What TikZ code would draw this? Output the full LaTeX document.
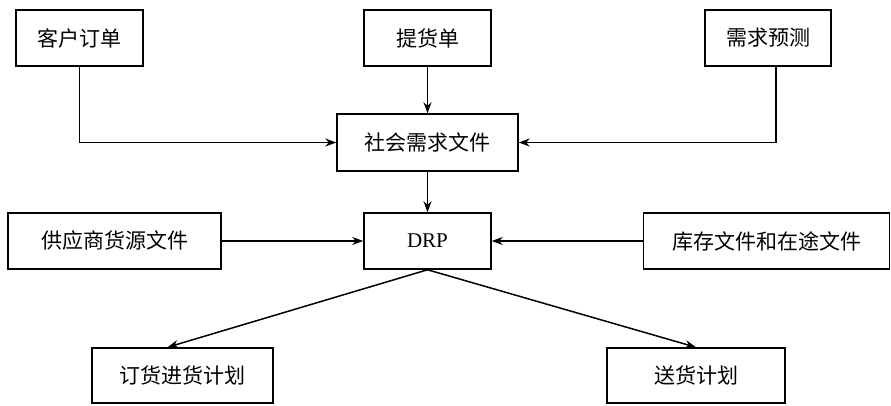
\documentclass[tikz,border=0pt]{standalone}
\usepackage{fontspec}
\setmainfont{Liberation Serif}
\newfontfamily\cjk{Noto Sans CJK SC}
\usetikzlibrary{arrows.meta}
\begin{document}
\begin{tikzpicture}[x=1pt,y=-1pt,
  box/.style={draw,line width=1.5pt,inner sep=0pt,minimum height=56pt,
    font=\cjk\fontsize{21}{25}\selectfont},
  conn/.style={line width=1.5pt,-{Stealth[length=11pt,width=8pt]}}]
\useasboundingbox (0,0) rectangle (891,405);
\node[box,minimum width=127pt] (kh) at (79.5,38) {客户订单};
\node[box,minimum width=127pt] (th) at (427.5,38) {提货单};
\node[box,minimum width=126pt] (xq) at (768,38) {需求预测};
\node[box,minimum width=181pt,minimum height=57pt] (sh) at (427.5,142.5) {社会需求文件};
\node[box,minimum width=127pt] (drp) at (427.5,241) {\fontspec{Liberation Serif}DRP};
\node[box,minimum width=213pt] (gy) at (114.5,241) {供应商货源文件};
\node[box,minimum width=246pt] (kc) at (766.5,241) {库存文件和在途文件};
\node[box,minimum width=181pt,minimum height=55pt] (dh) at (182.5,375.5) {订货进货计划};
\node[box,minimum width=178pt,minimum height=55pt] (sd) at (696,375.5) {送货计划};
\draw[conn] (kh.south) |- (sh.west);
\draw[conn] (th.south) -- (sh.north);
\draw[conn] ([xshift=8pt]xq.south) |- (sh.east);
\draw[conn] (sh.south) -- (drp.north);
\draw[conn] (gy.east) -- (drp.west);
\draw[conn] (kc.west) -- (drp.east);
\draw[conn] (drp.south) -- ([xshift=-15pt]dh.north);
\draw[conn] (drp.south) -- (sd.north);
\end{tikzpicture}
\end{document}
